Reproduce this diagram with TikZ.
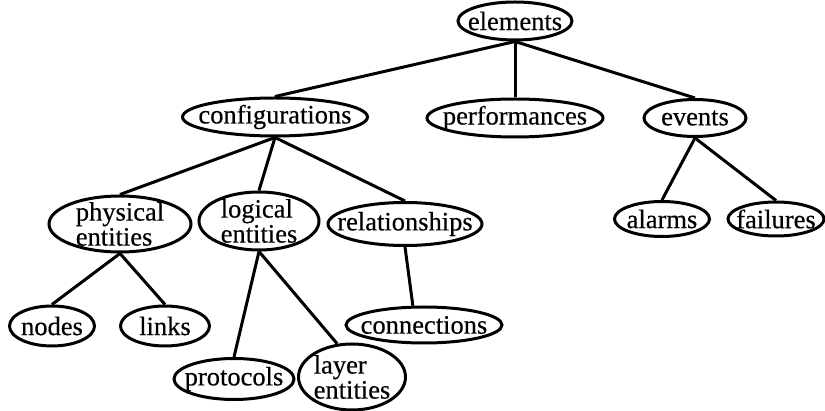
\documentclass[tikz,border=0pt]{standalone}
\usepackage{fontspec}
\setmainfont{Liberation Serif}[FakeBold=0.4]
\usetikzlibrary{shapes.geometric}
\begin{document}
\begin{tikzpicture}[x=1pt,y=-1pt,
  el/.style={ellipse, draw, line width=3pt, inner sep=0pt},
  lbl/.style={font=\fontsize{26.5}{25}\selectfont, align=left, inner sep=0pt},
  edge/.style={line width=3pt}]
\useasboundingbox (0,0) rectangle (825,411);

% level 0
\node[el, minimum width=114pt, minimum height=38pt, label={[lbl]center:elements}] (elem) at (515,21) {};

% level 1
\node[el, minimum width=185pt, minimum height=38pt, label={[lbl]center:configurations}] (conf) at (275,117) {};
\node[el, minimum width=176pt, minimum height=38pt, label={[lbl]center:performances}] (perf) at (515,118) {};
\node[el, minimum width=102pt, minimum height=37pt, label={[lbl]center:events}] (evt) at (695,118) {};

% level 2
\node[el, minimum width=142pt, minimum height=56pt, label={[lbl]center:{physical\\entities}}] (phys) at (120,224) {};
\node[el, minimum width=120pt, minimum height=58pt, label={[lbl]center:{logical\\entities}}] (logi) at (259,221) {};
\node[el, minimum width=154pt, minimum height=43pt, label={[lbl]center:relationships}] (rel) at (405,224) {};
\node[el, minimum width=95pt, minimum height=35pt, label={[lbl]center:alarms}] (alarm) at (662,219) {};
\node[el, minimum width=96pt, minimum height=34pt, label={[lbl]center:failures}] (fail) at (776,219) {};

% level 3
\node[el, minimum width=85pt, minimum height=40pt, label={[lbl]center:nodes}] (nodes) at (52,326) {};
\node[el, minimum width=89pt, minimum height=40pt, label={[lbl]center:links}] (links) at (165,326) {};
\node[el, minimum width=156pt, minimum height=36pt, label={[lbl]center:connections}] (conn) at (424,325) {};

% level 4
\node[el, minimum width=120pt, minimum height=41pt, label={[lbl]center:protocols}] (proto) at (234,379) {};
\node[el, minimum width=107pt, minimum height=66pt, label={[lbl]center:{layer\\entities}}] (layer) at (352,377) {};

% tree edges
\draw[edge] (elem.south) -- (conf.north);
\draw[edge] (elem.south) -- (perf.north);
\draw[edge] (elem.south) -- (evt.north);
\draw[edge] (conf.south) -- (phys.north);
\draw[edge] (conf.south) -- (logi.north);
\draw[edge] (conf.south) -- (rel.north);
\draw[edge] (evt.south) -- (alarm.north);
\draw[edge] (evt.south) -- (fail.north);
\draw[edge] (phys.south) -- (nodes.north);
\draw[edge] (phys.south) -- (links.north);
\draw[edge] (logi.south) -- (proto.north);
\draw[edge] (logi.south) -- (layer.114);
\draw[edge] (rel.south) -- (conn.120);
\end{tikzpicture}
\end{document}
